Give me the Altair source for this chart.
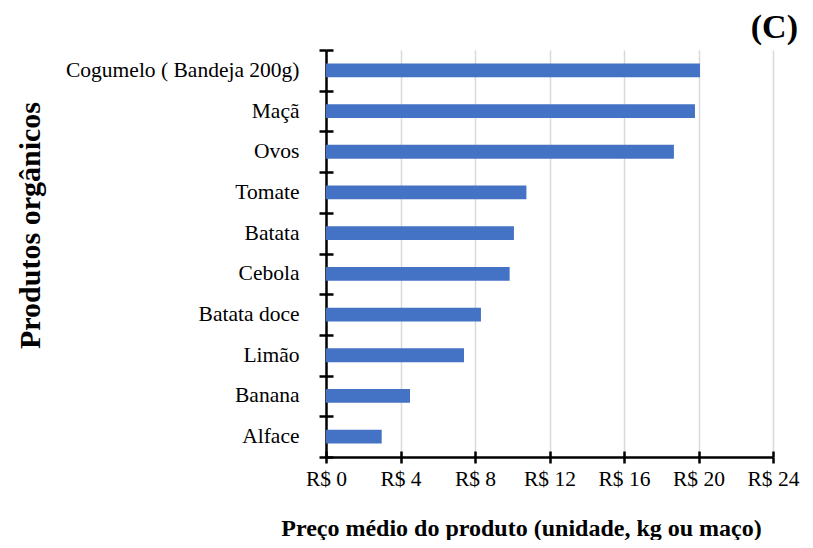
import altair as alt
import pandas as pd

produtos = ["Cogumelo ( Bandeja 200g)", "Maçã", "Ovos", "Tomate", "Batata",
            "Cebola", "Batata doce", "Limão", "Banana", "Alface"]
precos = [20.08, 19.81, 18.68, 10.76, 10.09, 9.86, 8.32, 7.41, 4.51, 2.99]
x_ticks = [0, 4, 8, 12, 16, 20, 24]
painel = ["(C)"]

df = pd.DataFrame({"produto": produtos, "preco": precos})
df_painel = pd.DataFrame({"rotulo": painel})

FONT = "Liberation Serif"
xscale = alt.Scale(domain=[0, 24], nice=False, zero=True)
yscale = alt.Scale(paddingInner=0, paddingOuter=0)

base = alt.Chart(df)

bars = base.mark_bar(color="#4472C4", height=alt.RelativeBandSize(band=0.34)).encode(
    x=alt.X(
        "preco:Q", scale=xscale,
        axis=alt.Axis(
            orient="bottom",
            values=x_ticks,
            labelExpr="'R$ ' + datum.value",
            labelOverlap=False, labelFlush=False,
            title="Preço médio do produto (unidade, kg ou maço)",
            titleFont=FONT, titleFontSize=24, titleFontWeight="bold", titleColor="black",
            titleAnchor="start", titleAlign="center", titleBaseline="alphabetic",
            titleX=195, titleY=78,
            labelFont=FONT, labelFontSize=21.5, labelColor="black",
            labelPadding=5, labelBaseline="top",
            tickSize=6, tickColor="black", tickWidth=2.5,
            domainColor="black", domainWidth=2.5,
            grid=True, gridColor="#D9D9D9", gridWidth=1.5,
        ),
    ),
    y=alt.Y(
        "produto:N", sort=produtos, scale=yscale,
        axis=alt.Axis(
            orient="left",
            title="Produtos orgânicos",
            titleFont=FONT, titleFontSize=30, titleFontWeight="bold", titleColor="black",
            titleAngle=-90, titleAlign="center", titleBaseline="alphabetic",
            titleAnchor="start", titleX=-287, titleY=175,
            labelFont=FONT, labelFontSize=21.5, labelColor="black",
            labelPadding=20, labelLimit=400,
            tickBand="extent",
            tickSize=7, tickColor="black", tickWidth=2.5,
            domainColor="black", domainWidth=2.5,
            grid=False,
        ),
    ),
)

inner_ticks = base.mark_bar(opacity=0).encode(
    x=alt.X(
        "preco:Q", scale=xscale,
        axis=alt.Axis(
            orient="bottom", values=x_ticks, offset=-6, tickSize=6,
            tickColor="black", tickWidth=2.5, domain=False, labels=False,
            title=None, grid=False,
        ),
    ),
    y=alt.Y(
        "produto:N", sort=produtos, scale=yscale,
        axis=alt.Axis(
            orient="left", offset=-7, tickSize=7, tickBand="extent",
            tickColor="black", tickWidth=2.5, domain=False, labels=False,
            title=None, grid=False,
        ),
    ),
)

panel_label = alt.Chart(df_painel).mark_text(
    font=FONT, fontSize=34, fontWeight="bold", color="black",
    align="right", baseline="alphabetic",
).encode(
    text="rotulo:N",
    x=alt.value(472),
    y=alt.value(-12),
)

chart = alt.layer(bars, inner_ticks, panel_label).resolve_axis(
    x="independent", y="independent"
).properties(
    width=447,
    height=407,
    autosize=alt.AutoSizeParams(type="none"),
    padding={"left": 318, "top": 42, "right": 32, "bottom": 83},
).configure_view(stroke=None)

chart.save("out.html", embed_options={"renderer": "svg", "actions": False})
